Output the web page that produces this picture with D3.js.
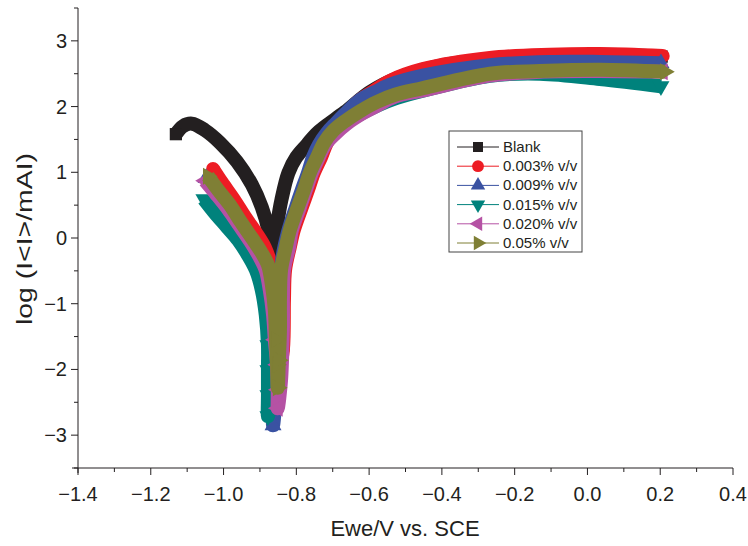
<!DOCTYPE html>
<html><head><meta charset="utf-8">
<script src="https://cdn.jsdelivr.net/npm/d3@7/dist/d3.min.js"></script>
<style>
body{margin:0;background:#fff;}
svg{display:block;font-family:"Liberation Sans",Arial,sans-serif;}
</style></head>
<body><svg id="c" width="748" height="546"></svg>
<script>
// ---- data (potential V vs SCE, log|I| mA) ----
const seriesNames = ["Blank","0.003% v/v","0.009% v/v","0.015% v/v","0.020% v/v","0.05% v/v"];
const seriesColors = ["#231f20","#ed1c24","#3a52a2","#00827c","#b552a4","#7f7f35"];
const seriesSymbols = ["square","circle","up","down","left","right"];

const blankV = [-1.131,-1.112,-1.087,-1.051,-1.010,-0.963,-0.922,-0.895,-0.875,-0.864,-0.862,-0.860,-0.851,-0.841,-0.822,-0.800,-0.771,-0.746,-0.720,-0.666,-0.598,-0.515,-0.378,-0.186,0.034,0.204];
const blankL = [1.58,1.70,1.74,1.64,1.45,1.16,0.81,0.47,0.09,-0.26,-0.52,-0.11,0.27,0.58,0.99,1.23,1.42,1.58,1.70,1.92,2.22,2.45,2.65,2.75,2.79,2.76];

const redV = [-1.029,-1.004,-0.971,-0.941,-0.911,-0.886,-0.870,-0.859,-0.851,-0.848,-0.845,-0.851,-0.837,-0.834,-0.831,-0.818,-0.807,-0.785,-0.768,-0.752,-0.732,-0.716,-0.694,-0.666,-0.631,-0.592,-0.543,-0.452,-0.268,-0.103,0.034,0.207];
const redL = [1.05,0.84,0.58,0.32,0.08,-0.15,-0.41,-0.79,-1.17,-1.55,-1.86,-2.13,-1.70,-0.94,-0.49,-0.14,0.12,0.47,0.73,0.99,1.23,1.45,1.64,1.86,2.07,2.22,2.39,2.57,2.74,2.79,2.80,2.77];

const blueV = [-1.048,-1.018,-0.985,-0.955,-0.925,-0.900,-0.884,-0.875,-0.870,-0.867,-0.867,-0.864,-0.864,-0.856,-0.848,-0.842,-0.840,-0.823,-0.801,-0.785,-0.768,-0.754,-0.738,-0.716,-0.691,-0.666,-0.625,-0.584,-0.543,-0.452,-0.268,-0.103,0.034,0.202];
const blueL = [0.91,0.70,0.47,0.23,-0.02,-0.24,-0.46,-0.79,-1.17,-1.63,-2.09,-2.47,-2.85,-2.39,-1.70,-0.94,-0.37,0.09,0.47,0.73,0.99,1.23,1.42,1.60,1.75,1.89,2.10,2.22,2.33,2.47,2.63,2.68,2.68,2.66];

const tealV = [-1.054,-1.024,-0.991,-0.960,-0.933,-0.911,-0.895,-0.884,-0.878,-0.878,-0.878,-0.878,-0.867,-0.859,-0.848,-0.840,-0.826,-0.815,-0.793,-0.776,-0.760,-0.741,-0.721,-0.697,-0.664,-0.623,-0.576,-0.526,-0.447,-0.268,-0.131,0.034,0.202];
const tealL = [0.59,0.38,0.17,-0.03,-0.26,-0.49,-0.79,-1.17,-1.63,-2.01,-2.39,-2.71,-2.24,-1.55,-0.94,-0.49,-0.14,0.12,0.47,0.73,0.99,1.23,1.43,1.60,1.75,1.89,2.02,2.13,2.25,2.47,2.50,2.42,2.31];

const magV = [-1.051,-1.021,-0.988,-0.958,-0.927,-0.903,-0.884,-0.873,-0.864,-0.859,-0.853,-0.851,-0.851,-0.842,-0.837,-0.834,-0.820,-0.812,-0.790,-0.774,-0.757,-0.738,-0.719,-0.694,-0.661,-0.620,-0.576,-0.529,-0.447,-0.268,-0.131,0.034,0.207];
const magL = [0.87,0.67,0.44,0.20,-0.05,-0.27,-0.49,-0.79,-1.17,-1.55,-1.93,-2.31,-2.59,-2.16,-1.40,-0.49,-0.14,0.12,0.47,0.73,0.99,1.23,1.43,1.58,1.74,1.89,2.02,2.15,2.25,2.47,2.53,2.54,2.53];

const oliveV = [-1.043,-1.015,-0.982,-0.952,-0.922,-0.897,-0.878,-0.867,-0.859,-0.856,-0.853,-0.851,-0.848,-0.845,-0.845,-0.842,-0.829,-0.818,-0.796,-0.779,-0.763,-0.743,-0.724,-0.699,-0.666,-0.625,-0.579,-0.529,-0.452,-0.268,-0.131,0.034,0.213];
const oliveL = [0.94,0.73,0.50,0.24,0.00,-0.21,-0.41,-0.72,-1.10,-1.55,-1.93,-2.28,-1.86,-1.40,-0.94,-0.49,-0.14,0.12,0.47,0.73,0.99,1.23,1.45,1.63,1.78,1.93,2.07,2.18,2.28,2.50,2.54,2.56,2.53];

const xTicks = [-1.4,-1.2,-1.0,-0.8,-0.6,-0.4,-0.2,0.0,0.2,0.4];
const yTicks = [-3,-2,-1,0,1,2,3];
const xTitle = "Ewe/V vs. SCE";
const yTitle = "log (I<I>/mAI)";

const seriesV = [blankV,redV,blueV,tealV,magV,oliveV];
const seriesL = [blankL,redL,blueL,tealL,magL,oliveL];

// ---- layout ----
const svg = d3.select("#c");
const X0 = 78, X1 = 733, Y0 = 468, Y1 = 8;
const x = d3.scaleLinear().domain([-1.4,0.4]).range([X0,X1]);
const y = d3.scaleLinear().domain([-3.5,3.5]).range([Y0,Y1]);
const minus = s => s.replace("-","\u2212");

function symbolPath(kind, size){
  if(kind==="square") return d3.symbol(d3.symbolSquare,size)();
  if(kind==="circle") return d3.symbol(d3.symbolCircle,size)();
  return d3.symbol(d3.symbolTriangle,size)();
}
function symbolRot(kind){
  return {up:0,down:180,left:-90,right:90}[kind]||0;
}

// ---- series ----
const line = d3.line().curve(d3.curveCatmullRom.alpha(0.5)).x(d=>x(d[0])).y(d=>y(d[1]));
const plot = svg.append("g");
seriesNames.forEach((name,i)=>{
  const pts = seriesV[i].map((v,j)=>[v,seriesL[i][j]]);
  const g = plot.append("g");
  g.append("path").attr("d",line(pts)).attr("fill","none")
    .attr("stroke",seriesColors[i]).attr("stroke-width",14)
    .attr("stroke-linejoin","round").attr("stroke-linecap","butt");
  const marked = pts.filter((p,j)=> j===0 || j===pts.length-1 || p[1] < -1.4);
  const sz = seriesSymbols[i]==="square"?150:(seriesSymbols[i]==="circle"?150:125);
  g.selectAll("path.m").data(marked).enter().append("path").attr("class","m")
    .attr("d",symbolPath(seriesSymbols[i],sz))
    .attr("transform",d=>`translate(${x(d[0])},${y(d[1])}) rotate(${symbolRot(seriesSymbols[i])})`)
    .attr("fill",seriesColors[i]);
});

// ---- axes ----
const axisCol = "#231f20";
const ax = svg.append("g").attr("stroke",axisCol).attr("stroke-width",1);
ax.append("line").attr("x1",X0-6).attr("x2",X1).attr("y1",Y0).attr("y2",Y0);
ax.append("line").attr("x1",X0).attr("x2",X0).attr("y1",Y1).attr("y2",Y0+5);
d3.range(-1.4,0.4001,0.1).forEach((v,k)=>{
  const major = k%2===0;
  ax.append("line").attr("x1",x(v)).attr("x2",x(v)).attr("y1",Y0).attr("y2",Y0+(major?7:4));
});
d3.range(-3.5,3.5001,0.5).forEach(v=>{
  const major = Math.abs(v-Math.round(v))<1e-6;
  ax.append("line").attr("x1",X0).attr("x2",X0-(major?7:4)).attr("y1",y(v)).attr("y2",y(v));
});
svg.append("g").selectAll("text").data(xTicks).enter().append("text")
  .attr("x",d=>x(d)).attr("y",501).attr("text-anchor","middle")
  .attr("font-size",20).attr("fill",axisCol)
  .text(d=>minus(d.toFixed(1)));
svg.append("g").selectAll("text").data(yTicks).enter().append("text")
  .attr("x",X0-11).attr("y",d=>y(d)+7).attr("text-anchor","end")
  .attr("font-size",20).attr("fill",axisCol)
  .text(d=>minus(String(d)));
svg.append("text").attr("x",405).attr("y",536).attr("text-anchor","middle")
  .attr("font-size",22).attr("fill",axisCol).text(xTitle);
svg.append("text").attr("transform",`translate(32,239) rotate(-90)`)
  .attr("text-anchor","middle").attr("font-size",22).attr("fill",axisCol)
  .attr("textLength",172).attr("lengthAdjust","spacingAndGlyphs").text(yTitle);

// ---- legend ----
const lg = svg.append("g").attr("transform","translate(449,131)");
lg.append("rect").attr("width",133).attr("height",121).attr("fill","#fff")
  .attr("stroke","#444").attr("stroke-width",1);
seriesNames.forEach((name,i)=>{
  const cy = 16 + i*19.2;
  lg.append("line").attr("x1",8).attr("x2",50).attr("y1",cy).attr("y2",cy)
    .attr("stroke",seriesColors[i]).attr("stroke-width",1);
  const s = seriesSymbols[i];
  const sz = s==="square"?100:(s==="circle"?110:90);
  lg.append("path").attr("d",symbolPath(s,sz))
    .attr("transform",`translate(29,${cy}) rotate(${symbolRot(s)})`).attr("fill",seriesColors[i]);
  lg.append("text").attr("x",54).attr("y",cy+5).attr("font-size",15).attr("fill",axisCol).text(name);
});
</script></body></html>
